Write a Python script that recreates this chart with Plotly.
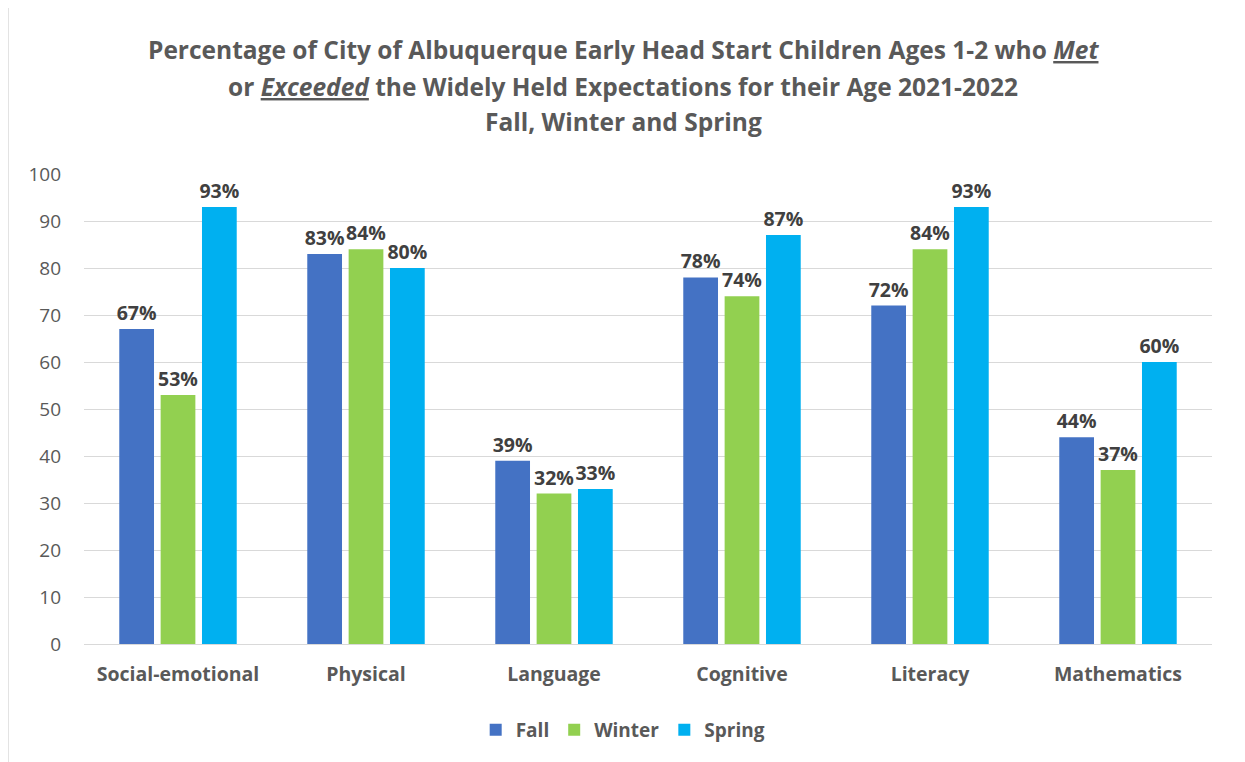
import plotly.graph_objects as go

categories = ["Social-emotional", "Physical", "Language", "Cognitive", "Literacy", "Mathematics"]
fall = [67, 83, 39, 78, 72, 44]
winter = [53, 84, 32, 74, 84, 37]
spring = [93, 80, 33, 87, 93, 60]
series_names = ["Fall", "Winter", "Spring"]
series_colors = ["#4472C4", "#92D050", "#00B0F0"]
y_ticks = [0, 10, 20, 30, 40, 50, 60, 70, 80, 90, 100]

FONT = "'Open Sans', Lato, sans-serif"

fig = go.Figure()
for name, vals, col in zip(series_names, [fall, winter, spring], series_colors):
    fig.add_trace(go.Bar(
        x=categories, y=vals, name=name, marker_color=col,
        marker_line_width=0,
        text=[f"{v}%" for v in vals], textposition="outside",
        textfont=dict(family=FONT, size=19.5, color="#404040", weight="bold"),
        constraintext="none", cliponaxis=False,
    ))

title_lines = [
    "Percentage of City of Albuquerque Early Head Start Children Ages 1-2 who <i><u>Met</u></i>",
    "or <i><u>Exceeded</u></i> the Widely Held Expectations for their Age 2021-2022",
    "Fall, Winter and Spring",
]
title_y = [1.264, 1.187, 1.111]
for t, yy in zip(title_lines, title_y):
    fig.add_annotation(text=f"<b>{t}</b>", xref="paper", yref="paper", x=0.478, y=yy,
                       xanchor="center", yanchor="middle", showarrow=False,
                       font=dict(family=FONT, size=24.5, color="#595959"))

fig.add_shape(type="rect", xref="paper", yref="paper", x0=-0.0674, x1=1.0257, y0=-0.28, y1=1.355,
              line=dict(color="#D9D9D9", width=1.5), fillcolor="rgba(0,0,0,0)", layer="below")

fig.update_layout(
    width=1245, height=762,
    margin=dict(l=76, r=41, t=166, b=126),
    paper_bgcolor="white", plot_bgcolor="white",
    barmode="group", bargap=0.34, bargroupgap=0.16,
    showlegend=True,
    legend=dict(orientation="h", x=0.478, xanchor="center", y=-0.183, yanchor="middle",
                font=dict(family=FONT, size=19, color="#595959", weight="bold"),
                itemwidth=30, traceorder="normal"),
    xaxis=dict(showgrid=False, showline=False, ticks="",
               tickfont=dict(family=FONT, size=19.5, color="#595959", weight="bold"),
               ticklabelstandoff=16),
    yaxis=dict(range=[0, 100], tickvals=y_ticks, showgrid=True, gridcolor="#D9D9D9", gridwidth=1,
               zeroline=True, zerolinecolor="#D9D9D9", zerolinewidth=1, showline=False,
               tickfont=dict(family=FONT, size=19, color="#595959"),
               ticklabelstandoff=22),
    font=dict(family=FONT),
)

fig.write_html("out.html")
